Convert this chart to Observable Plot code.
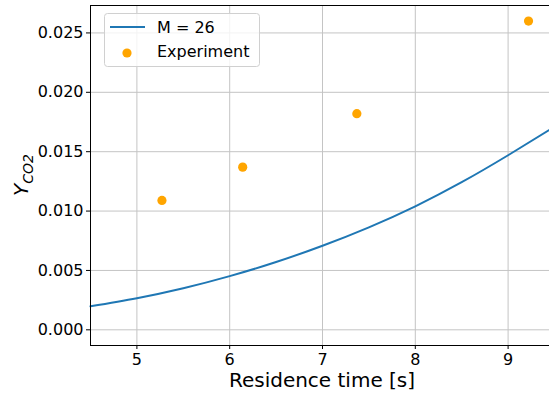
<!DOCTYPE html>
<html>
<head>
<meta charset="utf-8">
<script src="https://cdn.jsdelivr.net/npm/d3@7"></script>
<script src="https://cdn.jsdelivr.net/npm/@observablehq/plot@0.6"></script>
<style>
  html, body { margin: 0; padding: 0; background: #fff; overflow: hidden; }
  #wrap { width: 549px; height: 397px; overflow: hidden; }
  #wrap svg { max-width: none !important; }
</style>
</head>
<body>
<div id="wrap"></div>
<script>
// Model curve M = 26
const modelTime = [4.5, 5.0, 5.5, 6.0, 6.5, 7.0, 7.5, 8.0, 8.5, 9.0, 9.5];
const modelY    = [0.00198, 0.00266, 0.0035, 0.00452, 0.00571, 0.00708, 0.00863, 0.0104, 0.01243, 0.0147, 0.0171];
// Experiment points
const expTime = [5.27, 6.14, 7.37, 9.22];
const expY    = [0.0109, 0.0137, 0.0182, 0.0260];
// Ticks
const xTicks = [5, 6, 7, 8, 9];
const yTicks = [0, 0.005, 0.010, 0.015, 0.020, 0.025];
const legendLabels = ["M = 26", "Experiment"];
const xLabel = "Residence time [s]";

const model = modelTime.map((t, i) => ({t, y: modelY[i]}));
const exper = expTime.map((t, i) => ({t, y: expY[i]}));

const W = 554, H = 397;
const mL = 90, mT = 5, mB = 52, mR = 0;

const chart = Plot.plot({
  width: W, height: H,
  marginLeft: mL, marginTop: mT, marginBottom: mB, marginRight: mR,
  style: {fontFamily: "DejaVu Sans", fontSize: "16px", color: "black", background: "white", maxWidth: "none", width: W + "px", height: H + "px"},
  x: {domain: [4.5, 9.5]},
  y: {domain: [-0.00132, 0.02731]},
  marks: [
    Plot.gridX(xTicks, {stroke: "#c4c4c4", strokeOpacity: 1, strokeWidth: 1}),
    Plot.gridY(yTicks, {stroke: "#c4c4c4", strokeOpacity: 1, strokeWidth: 1}),
    Plot.line(model, {x: "t", y: "y", stroke: "#1f77b4", strokeWidth: 2, curve: "natural"}),
    Plot.dot(exper, {x: "t", y: "y", r: 4.6, fill: "#ffa500", stroke: "none"}),
    Plot.axisX(xTicks, {tickSize: 4, tickPadding: 4, label: null, fontSize: 16, stroke: "black"}),
    Plot.axisY(yTicks, {tickSize: 4, tickPadding: 3, label: null, fontSize: 16, tickFormat: d3.format(".3f"), stroke: "black"}),
    Plot.frame({stroke: "black", strokeWidth: 1})
  ]
});

const svg = d3.select(chart);
// X label
svg.append("text")
  .attr("x", (mL + W - mR) / 2).attr("y", 387)
  .attr("text-anchor", "middle")
  .attr("font-family", "DejaVu Sans").attr("font-size", 20)
  .attr("fill", "black")
  .text(xLabel);
// Y label
const yl = svg.append("text")
  .attr("transform", `translate(28,${(mT + H - mB) / 2}) rotate(-90)`)
  .attr("text-anchor", "middle")
  .attr("font-family", "DejaVu Sans").attr("font-size", 20)
  .attr("fill", "black");
yl.append("tspan").attr("font-style", "italic").text("Y");
yl.append("tspan").attr("font-style", "italic").attr("font-size", 14).attr("dy", 5).text("CO2");

// Legend
const lg = svg.append("g").attr("text-anchor", "start");
lg.append("rect").attr("x", 104.5).attr("y", 13.5).attr("width", 155).attr("height", 53)
  .attr("rx", 3).attr("fill", "white").attr("fill-opacity", 0.8).attr("stroke", "#d0d0d0");
lg.append("line").attr("x1", 110).attr("x2", 145).attr("y1", 27).attr("y2", 27)
  .attr("stroke", "#1f77b4").attr("stroke-width", 2);
lg.append("circle").attr("cx", 127).attr("cy", 53).attr("r", 4.6).attr("fill", "#ffa500");
lg.append("text").attr("x", 157).attr("y", 33).attr("text-anchor", "start").attr("font-family", "DejaVu Sans")
  .attr("font-size", 16).attr("fill", "black").text(legendLabels[0]);
lg.append("text").attr("x", 157).attr("y", 57).attr("text-anchor", "start").attr("font-family", "DejaVu Sans")
  .attr("font-size", 16).attr("fill", "black").text(legendLabels[1]);

document.getElementById("wrap").appendChild(chart);
</script>
</body>
</html>
